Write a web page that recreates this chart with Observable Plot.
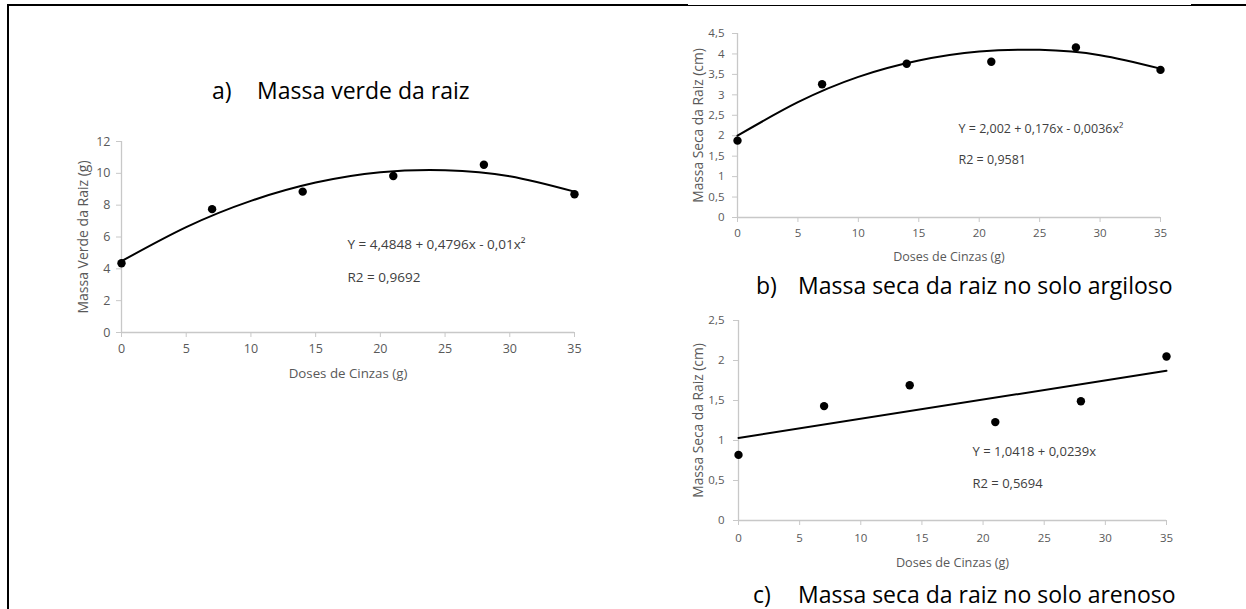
<!DOCTYPE html>
<html><head><meta charset="utf-8">
<script src="https://cdn.jsdelivr.net/npm/d3@7"></script>
<script src="https://cdn.jsdelivr.net/npm/@observablehq/plot@0.6"></script>
<style>
html,body{margin:0;padding:0;background:#fff;}
#root{position:relative;width:1246px;height:609px;overflow:hidden;font-family:"Open Sans",Lato,sans-serif;}
.panel{position:absolute;}
.t{position:absolute;font-size:23px;color:#000;white-space:nowrap;line-height:1;transform:translateY(-50%);}
.ln{position:absolute;background:#000;}
</style></head><body><div id="root"></div>
<script>
// ---- data ----
const doses = [0, 7, 14, 21, 28, 35];
const massaVerde = [4.35, 7.75, 8.85, 9.83, 10.54, 8.69];
const massaSecaArgiloso = [1.88, 3.26, 3.76, 3.81, 4.16, 3.61];
const massaSecaArenoso = [0.82, 1.43, 1.69, 1.23, 1.49, 2.05];
const trendX = [0, 5, 10, 15, 20, 25, 30, 35];
const trendVerde = [4.48, 6.62, 8.27, 9.42, 10.07, 10.2, 9.82, 8.85];
const trendArgiloso = [2.0, 2.82, 3.44, 3.84, 4.06, 4.10, 3.97, 3.64];
const xTicks = [0, 5, 10, 15, 20, 25, 30, 35];
const yTicksA = [0, 2, 4, 6, 8, 10, 12];
const yTicksB = [0, 0.5, 1, 1.5, 2, 2.5, 3, 3.5, 4, 4.5];
const yTicksC = [0, 0.5, 1, 1.5, 2, 2.5];
const xLabel = "Doses de Cinzas (g)";
const yLabels = ["Massa Verde da Raiz (g)", "Massa Seca da Raiz (cm)", "Massa Seca da Raiz (cm)"];
const equations = ["Y = 4,4848 + 0,4796x - 0,01x²", "Y = 2,002 + 0,176x - 0,0036x²", "Y = 1,0418 + 0,0239x"];
const r2Texts = ["R2 = 0,9692", "R2 = 0,9581", "R2 = 0,5694"];
const titleLetters = ["a)", "b)", "c)"];
const titleTexts = ["Massa verde da raiz", "Massa seca da raiz no solo argiloso", "Massa seca da raiz no solo arenoso"];

const root = document.getElementById("root");
const fmt = d => String(d).replace(".", ",");
const AX = "#c8c8c8", TXT = "#595959";

function panel(o) {
  const data = o.xs.map((x, i) => ({x, y: o.ys[i]}));
  const marks = [
    Plot.ruleY([o.yDomain[0]], {stroke: AX, strokeWidth: 1.3}),
    Plot.ruleX([0], {stroke: AX, strokeWidth: 1.3}),
    Plot.axisX({ticks: xTicks, tickFormat: fmt, tickSize: 5, tickPadding: o.xPad, stroke: AX, fill: TXT, label: null, fontSize: o.tickFs}),
    Plot.axisY({ticks: o.yTicks, tickFormat: fmt, tickSize: 5, tickPadding: o.yPad, stroke: AX, fill: TXT, label: null, fontSize: o.tickFs}),
    Plot.dot(data, {x: "x", y: "y", r: 4.2, fill: "#000"}),
  ];
  if (o.trendYs) {
    marks.push(Plot.line(o.trendX.map((x, i) => ({x, y: o.trendYs[i]})), {x: "x", y: "y", stroke: "#000", strokeWidth: 2, curve: "natural"}));
  } else {
    marks.push(Plot.linearRegressionY(data, {x: "x", y: "y", stroke: "#000", strokeWidth: 2, ci: 0}));
  }
  marks.push(
    Plot.text([xLabel], {frameAnchor: "bottom", dy: o.xLabDy, lineAnchor: "middle", textAnchor: "middle", text: d => d, fill: TXT, fontSize: o.xLabFs}),
    Plot.text([o.yLabel], {frameAnchor: "left", dx: o.yLabDx, rotate: -90, lineAnchor: "middle", textAnchor: "middle", text: d => d, fill: TXT, fontSize: o.yLabFs}),
    Plot.text([o.eq], {frameAnchor: "top-left", dx: o.eqDx, dy: o.eqDy, lineAnchor: "middle", textAnchor: "start", text: d => d, fill: "#404040", fontSize: o.eqFs}),
    Plot.text([o.r2], {frameAnchor: "top-left", dx: o.eqDx, dy: o.r2Dy, lineAnchor: "middle", textAnchor: "start", text: d => d, fill: "#404040", fontSize: o.eqFs})
  );
  const svg = Plot.plot({
    width: o.width, height: o.height,
    marginLeft: o.mL, marginRight: o.mR, marginTop: o.mT, marginBottom: o.mB,
    x: {domain: [0, 35]},
    y: {domain: o.yDomain},
    style: {fontFamily: "'Open Sans', Lato, sans-serif", background: "transparent", overflow: "visible"},
    marks
  });
  const div = document.createElement("div");
  div.className = "panel";
  div.style.left = o.left + "px";
  div.style.top = o.top + "px";
  div.appendChild(svg);
  root.appendChild(div);
}

panel({left: 40, top: 115, width: 560, height: 280, mL: 81, mR: 26, mT: 26, mB: 63,
  yDomain: [0, 12], yTicks: yTicksA, xs: doses, ys: massaVerde, trendX, trendYs: trendVerde,
  yLabel: yLabels[0], eq: equations[0], r2: r2Texts[0], tickFs: 12.5, xLabFs: 13.3, yLabFs: 14, eqFs: 13.5,
  xLabDy: 41, yLabDx: -38, eqDx: 226, eqDy: 103, r2Dy: 136, xPad: 7, yPad: 6});

panel({left: 620, top: 10, width: 626, height: 260, mL: 117, mR: 86, mT: 23, mB: 53,
  yDomain: [0, 4.5], yTicks: yTicksB, xs: doses, ys: massaSecaArgiloso, trendX, trendYs: trendArgiloso,
  yLabel: yLabels[1], eq: equations[1], r2: r2Texts[1], tickFs: 11.5, xLabFs: 12.5, yLabFs: 13.8, eqFs: 12.5,
  xLabDy: 39, yLabDx: -39, eqDx: 221, eqDy: 95, r2Dy: 126, xPad: 6, yPad: 8});

panel({left: 620, top: 300, width: 626, height: 300, mL: 118, mR: 80, mT: 20, mB: 80,
  yDomain: [0, 2.5], yTicks: yTicksC, xs: doses, ys: massaSecaArenoso, trendX, trendYs: null,
  yLabel: yLabels[2], eq: equations[2], r2: r2Texts[2], tickFs: 11.5, xLabFs: 12.7, yLabFs: 13.8, eqFs: 13,
  xLabDy: 42, yLabDx: -40, eqDx: 234, eqDy: 131, r2Dy: 163, xPad: 8, yPad: 9});

// titles
const titlePos = [[212, 257, 90], [756, 798, 285], [753, 798, 594]];
titlePos.forEach(([lx, tx, cy], i) => {
  const a = document.createElement("div"); a.className = "t"; a.textContent = titleLetters[i];
  a.style.left = lx + "px"; a.style.top = cy + "px"; root.appendChild(a);
  const b = document.createElement("div"); b.className = "t"; b.textContent = titleTexts[i];
  b.style.left = tx + "px"; b.style.top = cy + "px"; root.appendChild(b);
});

// frame lines
[[7, 4, 681, 2], [688, 5, 503, 1], [1191, 4, 55, 2], [7, 4, 2, 605]].forEach(([l, t, w, h]) => {
  const d = document.createElement("div"); d.className = "ln";
  Object.assign(d.style, {left: l + "px", top: t + "px", width: w + "px", height: h + "px"});
  root.appendChild(d);
});
</script></body></html>
